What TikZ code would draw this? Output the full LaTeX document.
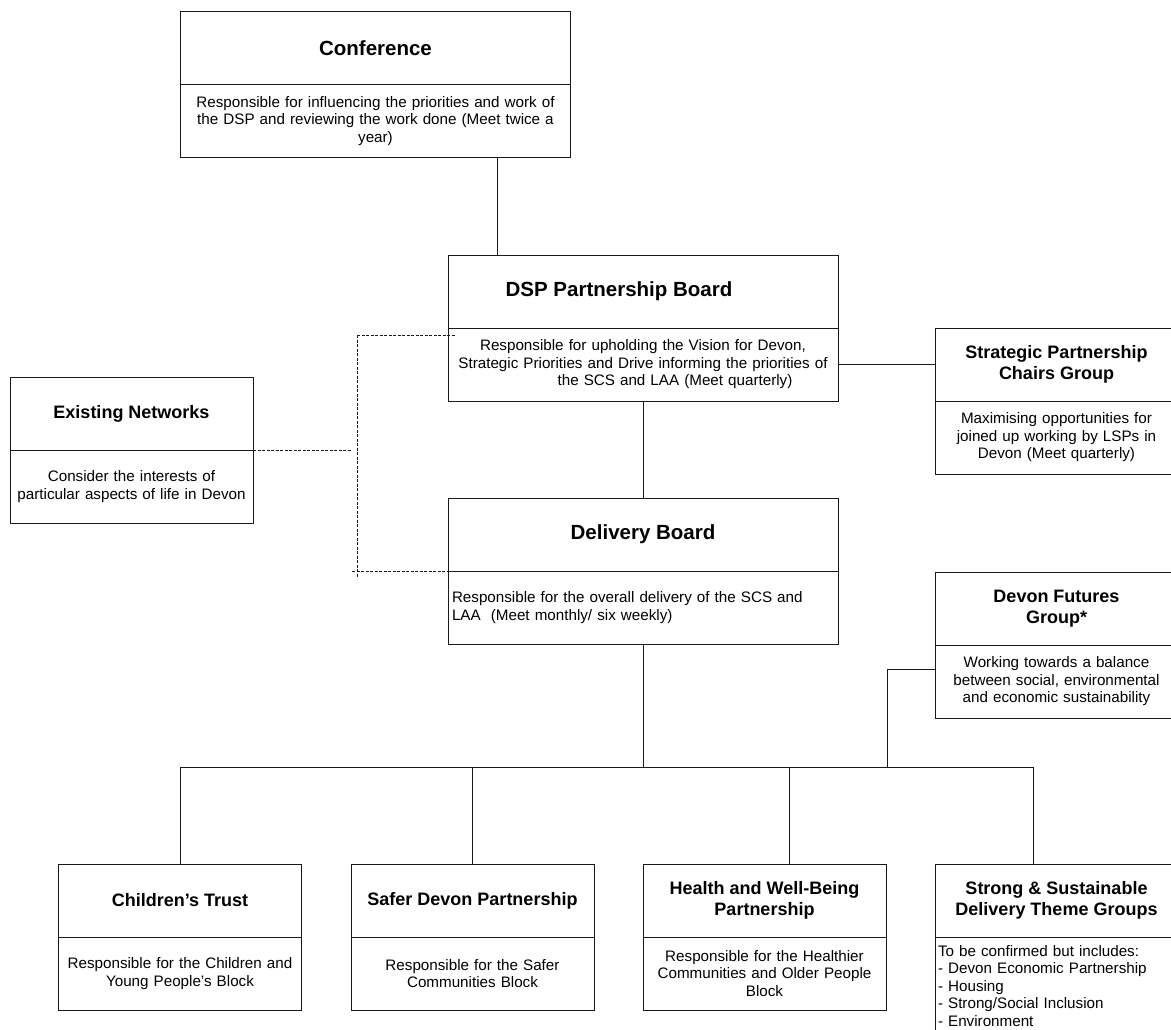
\documentclass[tikz,border=0pt]{standalone}
\usepackage{fontspec}
\setmainfont{Liberation Sans}
\usepackage{tikz}
\usetikzlibrary{positioning}
\definecolor{BoxLine}{gray}{0.1}

\begin{document}
\begin{tikzpicture}[x=1pt, y=-1pt,
    bighead/.style={
      rectangle,
      draw=BoxLine,
      line width=0.9pt,
      outer sep=0pt,
      inner sep=0pt,
      minimum width=390pt,
      minimum height=73pt,
      align=center,
      font=\fontsize{20.5}{24}\selectfont\bfseries
    },
    bigtext/.style={bighead, text width=382pt, font=\fontsize{15.2}{17.5}\selectfont},
    sidehead/.style={bighead, minimum width=243pt, font=\fontsize{18}{20.5}\selectfont\bfseries},
    sidetext/.style={sidehead, text width=237pt, font=\fontsize{15.2}{17.5}\selectfont},
    link/.style={draw=BoxLine, line width=0.9pt},
    netlink/.style={link, dash pattern=on 3pt off 1.5pt}
  ]
  \useasboundingbox[fill=white] (0,0) rectangle (1171,1029);

  % top of the structure
  \node[bighead] (conf) at (375.5,48) {Conference};
  \node[bigtext, below=0pt of conf] (conf-d) {Responsible for influencing the priorities and work of\\the DSP and reviewing the work done (Meet twice a\\year)};

  \node[bighead] (dsp) at (643,291.5) {DSP Partnership Board\hspace*{48pt}};
  \node[bigtext, below=0pt of dsp] (dsp-d) {Responsible for upholding the Vision for Devon,\\Strategic Priorities and Drive informing the priorities of\\\hspace*{64pt}the SCS and LAA (Meet quarterly)};

  \node[bighead] (deliv) at (643,534.5) {Delivery Board};
  \node[bigtext, below=0pt of deliv, align=left] (deliv-d) {Responsible for the overall delivery of the SCS and\\LAA\ \ (Meet monthly/ six weekly)};

  % side groups
  \node[sidehead] (exist) at (131.5,413.5) {Existing Networks};
  \node[sidetext, below=0pt of exist] (exist-d) {Consider the interests of\\particular aspects of life in Devon};

  \node[sidehead] (chairs) at (1056.5,364.5) {Strategic Partnership\\Chairs Group};
  \node[sidetext, below=0pt of chairs] (chairs-d) {Maximising opportunities for\\joined up working by LSPs in\\Devon (Meet quarterly)};

  \node[sidehead] (futures) at (1056.5,608.5) {Devon Futures\\Group*};
  \node[sidetext, below=0pt of futures] (futures-d) {Working towards a balance\\between social, environmental\\and economic sustainability};

  % delivery partnerships
  \node[sidehead] (child) at (180,900.5) {Children’s Trust};
  \node[sidetext, below=0pt of child] (child-d) {Responsible for the Children and\\Young People’s Block};

  \node[sidehead] (safer) at (472.5,900.5) {Safer Devon Partnership};
  \node[sidetext, below=0pt of safer] (safer-d) {Responsible for the Safer\\Communities Block};

  \node[sidehead] (health) at (764.5,900.5) {Health and Well-Being\\Partnership};
  \node[sidetext, below=0pt of health] (health-d) {Responsible for the Healthier\\Communities and Older People\\Block};

  \node[sidehead] (strong) at (1056.5,900.5) {Strong \& Sustainable\\Delivery Theme Groups};
  \node[sidetext, below=0pt of strong, align=left, minimum height=98pt] (strong-d) {To be confirmed but includes:\\- Devon Economic Partnership\\- Housing\\- Strong/Social Inclusion\\- Environment};

  \coordinate (netT) at (357,335);
  \coordinate (netB) at (357,578);
  \coordinate (busL) at (180,767);
  \coordinate (busR) at (1033,767);
  \coordinate (busF) at (887,767);

  \draw[link] ([xshift=121.5pt]conf-d.south) -- ([xshift=121.5pt]conf-d.south |- dsp.north);
  \draw[link] (dsp-d.south) -- (deliv.north);
  \draw[link] (dsp-d.east) -- (chairs.west);
  \draw[link] (deliv-d.south) -- (deliv-d.south |- busL);
  \draw[link] ([yshift=12pt]futures-d.west) -| (busF);
  \draw[link] (busL) -- (busR);
  \draw[link] (busL) -- (child.north);
  \draw[link] (safer.north |- busL) -- (safer.north);
  \draw[link] ([xshift=24.5pt]health.north |- busL) -- ([xshift=24.5pt]health.north);
  \draw[link] (busR) -- (busR |- strong.north);

  % dashed links to the existing networks
  \draw[netlink] (exist.south east) -- ([xshift=-5pt]exist.south east -| netT);
  \draw[netlink] (netT) -- (netB);
  \draw[netlink] (netT) -- ([xshift=7pt]netT -| dsp.west);
  \draw[netlink] ([xshift=-5pt]netB |- deliv.south west) -- (deliv.south west);
\end{tikzpicture}
\end{document}
